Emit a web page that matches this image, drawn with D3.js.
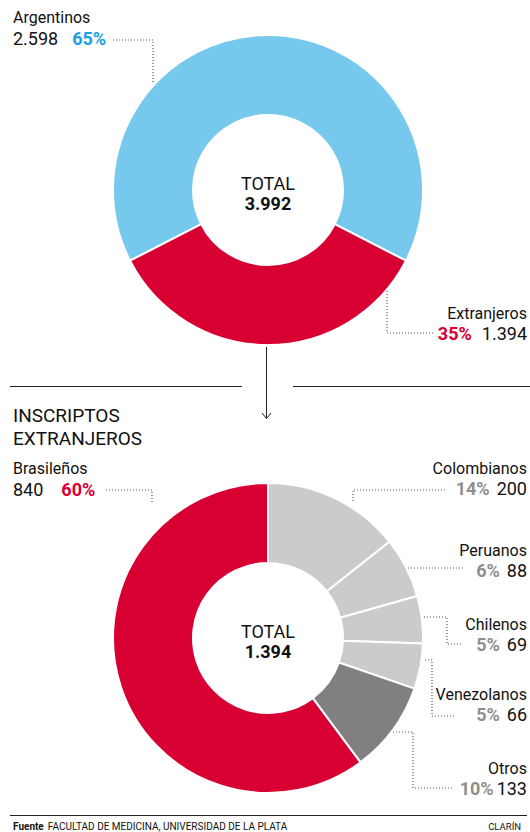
<!DOCTYPE html>
<html><head><meta charset="utf-8">
<script src="https://cdn.jsdelivr.net/npm/d3@7"></script>
<style>
html,body{margin:0;padding:0;background:#fff;}
svg{display:block;font-family:Roboto,"Noto Sans",sans-serif;}
</style></head>
<body>
<svg id="c" width="530" height="832"></svg>
<script>
// ---- data ----
const topCategories = ["Argentinos", "Extranjeros"];
const topValues = [2598, 1394];
const bottomCategories = ["Colombianos", "Peruanos", "Chilenos", "Venezolanos", "Otros", "Brasileños"];
const bottomValues = [200, 88, 69, 66, 133, 840];
const bottomTotal = 1394; // total as published
const titleLines = ["INSCRIPTOS", "EXTRANJEROS"];
const sourceText = "FACULTAD DE MEDICINA, UNIVERSIDAD DE LA PLATA";

// ---- style ----
const topColors = ["#76c8ec", "#d80032"];
const bottomColors = ["#cbcbcb", "#cbcbcb", "#cbcbcb", "#cbcbcb", "#808080", "#d80032"];
const pctColorsTop = ["#1a9fe0", "#d80032"];
const pctColorsBottom = ["#8f8f8f", "#8f8f8f", "#8f8f8f", "#8f8f8f", "#8f8f8f", "#d80032"];

const loc = d3.formatLocale({decimal: ",", thousands: ".", grouping: [3], currency: ["$", ""]});
const fmt = loc.format(",d");

const svg = d3.select("#c");
const R = 155, r = 75, cx = 268;

function donut(cy, values, colors, startAngle) {
  const pie = d3.pie().sort(null).value(d => d).startAngle(startAngle).endAngle(startAngle + 2 * Math.PI);
  const arc = d3.arc().innerRadius(r).outerRadius(R);
  const g = svg.append("g").attr("transform", `translate(${cx},${cy})`);
  g.selectAll("path").data(pie(values)).join("path")
    .attr("d", arc).attr("fill", (d, i) => colors[i])
    .attr("stroke", "#fff").attr("stroke-width", 2);
  return g;
}

function center(g, total) {
  g.append("text").attr("text-anchor", "middle").attr("y", 0).attr("font-size", 18).attr("fill", "#111").text("TOTAL");
  g.append("text").attr("text-anchor", "middle").attr("y", 20).attr("font-size", 18).attr("font-weight", 700).attr("fill", "#111").text(fmt(total));
}

// ---- top donut ----
const topTotal = d3.sum(topValues);
const blueAngle = topValues[0] / topTotal * 2 * Math.PI;
const gTop = donut(190, topValues, topColors, -blueAngle / 2);
center(gTop, topTotal);

// ---- bottom donut ----
const gBot = donut(638, bottomValues, bottomColors, 0);
center(gBot, bottomTotal);

const pct = (v, t) => Math.round(v / t * 100) + "%";

function leader(d) {
  svg.append("path").attr("d", d).attr("fill", "none")
    .attr("stroke", "#555").attr("stroke-width", 1.2).attr("stroke-dasharray", "1 2");
}

// left-anchored label: name, value then pct
function labelLeft(x, y, name, value, p, pc, gap) {
  svg.append("text").attr("x", x).attr("y", y).attr("font-size", 16).attr("fill", "#111").text(name);
  const t = svg.append("text").attr("x", x).attr("y", y + 22).attr("font-size", 18).attr("fill", "#111");
  t.append("tspan").text(value);
  t.append("tspan").attr("dx", gap).attr("font-weight", 700).attr("fill", pc).text(p);
}
// right-anchored label: name, pct then value
function labelRight(x, y, name, value, p, pc, gap) {
  svg.append("text").attr("x", x).attr("y", y).attr("text-anchor", "end").attr("font-size", 16).attr("fill", "#111").text(name);
  const t = svg.append("text").attr("x", x).attr("y", y + 21).attr("text-anchor", "end").attr("font-size", 18).attr("fill", "#111");
  t.append("tspan").attr("font-weight", 700).attr("fill", pc).text(p);
  t.append("tspan").attr("dx", gap).text(value);
}

labelLeft(13, 23, topCategories[0], fmt(topValues[0]), pct(topValues[0], topTotal), pctColorsTop[0], 14);
leader("M113,40H153V82");
labelRight(527, 319, topCategories[1], fmt(topValues[1]), pct(topValues[1], topTotal), pctColorsTop[1], 10);
leader("M387,291V333H433");

// separator and arrow
svg.append("line").attr("x1", 10).attr("x2", 242).attr("y1", 386.5).attr("y2", 386.5).attr("stroke", "#222").attr("stroke-width", 1);
svg.append("line").attr("x1", 293).attr("x2", 530).attr("y1", 386.5).attr("y2", 386.5).attr("stroke", "#222").attr("stroke-width", 1);
svg.append("line").attr("x1", 266.5).attr("x2", 266.5).attr("y1", 347).attr("y2", 418).attr("stroke", "#222").attr("stroke-width", 1);
svg.append("path").attr("d", "M262,413L266.5,418.5L271,413").attr("fill", "none").attr("stroke", "#222").attr("stroke-width", 1);

// title
svg.append("text").attr("font-size", 19).attr("fill", "#111")
  .selectAll("tspan").data(titleLines).join("tspan")
  .attr("x", 13).attr("y", (d, i) => 422 + i * 23).text(d => d);

// bottom labels
const bi = i => [bottomCategories[i], String(bottomValues[i]), pct(bottomValues[i], bottomTotal), pctColorsBottom[i]];
labelLeft(13, 474, ...bi(5), 18);
leader("M106,490H152V502");
labelRight(527, 474, ...bi(0), 7);
leader("M445,490H353V502");
labelRight(527, 556, ...bi(1), 7);
leader("M408,568H465");
labelRight(527, 630, ...bi(2), 7);
leader("M424,617H447V644H462");
labelRight(527, 700, ...bi(3), 7);
leader("M425,660H432V716H455");
labelRight(527, 774, ...bi(4), 3);
leader("M393,732H413V788H452");

// footer
svg.append("line").attr("x1", 10).attr("x2", 527).attr("y1", 815.5).attr("y2", 815.5).attr("stroke", "#222").attr("stroke-width", 1.2);
const f = svg.append("text").attr("x", 13).attr("y", 830).attr("font-size", 10).attr("fill", "#111");
f.append("tspan").attr("font-weight", 700).text("Fuente");
f.append("tspan").attr("dx", 4).text(sourceText);
svg.append("text").attr("x", 521).attr("y", 830).attr("text-anchor", "end").attr("font-size", 9.5).attr("fill", "#111").text("CLARÍN");
</script>
</body></html>
